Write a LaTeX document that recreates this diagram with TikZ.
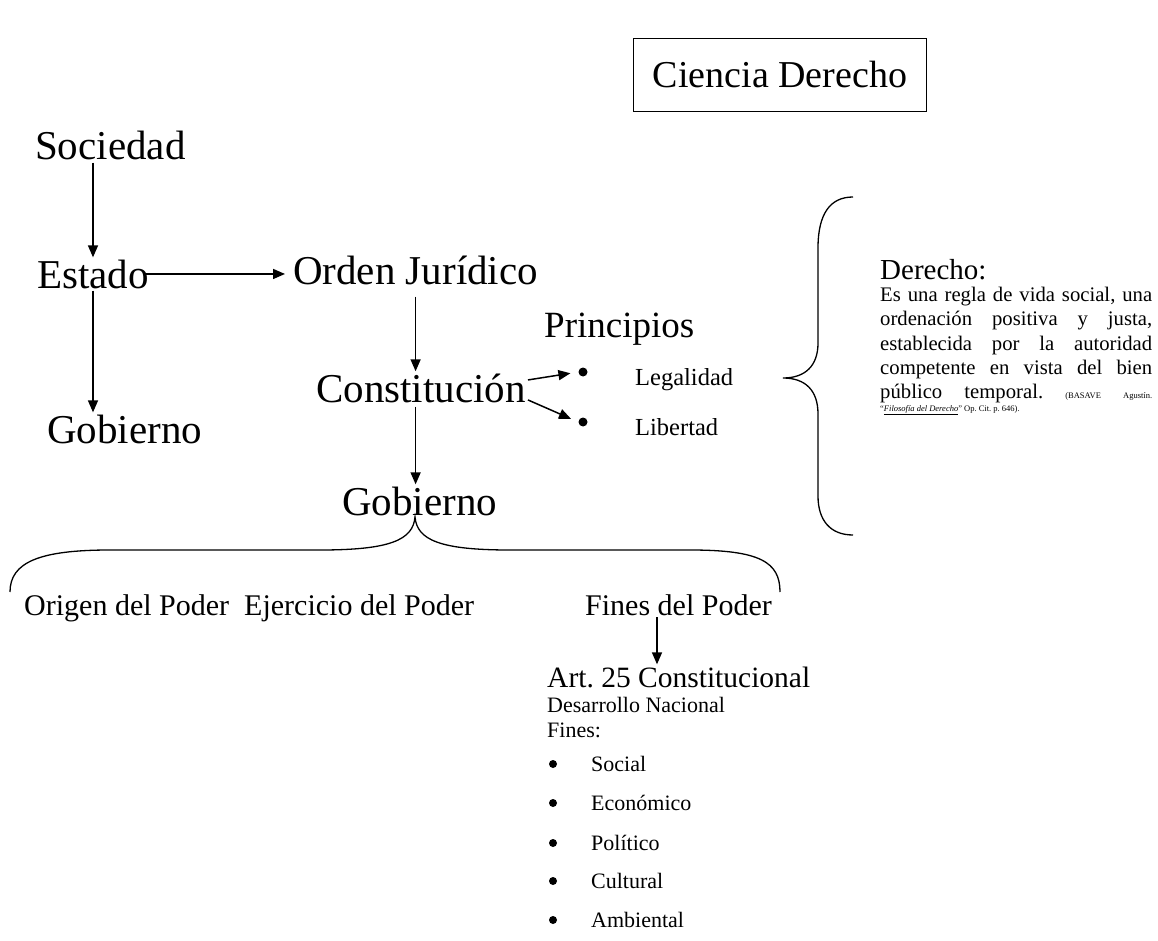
\documentclass[tikz,border=0pt]{standalone}
\usepackage{fontspec}
\setmainfont{Liberation Serif}
\usetikzlibrary{arrows.meta}
\frenchspacing

\begin{document}
\begin{tikzpicture}[x=1pt,y=-1pt,
  flecha/.style={line width=1.5pt,-{Triangle[length=12pt,width=10pt]}},
  llave/.style={line width=1.3pt},
  txt/.style={inner sep=2pt,anchor=base west},
  grande/.style={txt,font=\fontsize{41}{48}\selectfont},
  medio/.style={txt,font=\fontsize{30}{35}\selectfont},
  chico/.style={txt,font=\fontsize{22}{26}\selectfont},
  punto/.style={circle,fill=black,inner sep=0pt,minimum size=9pt}]

\useasboundingbox (0,0) rectangle (1158,941);

% title box
\node[draw,line width=1.2pt,inner xsep=19pt,minimum height=73pt,
  font=\fontsize{38}{44}\selectfont] (titulo) at (780,75) {Ciencia Derecho};

% left column
\node[grande] (soc) at (33,160) {Sociedad};
\node[grande] (est) at (35,288) {Estado};
\node[grande] (gobizq) at (45,443) {Gobierno};
\node[grande] (orden) at (291,284) {Orden Jurídico};
\node[grande] (const) at (314,402) {Constitución};
\node[grande] (gob) at (340,515) {Gobierno};

\draw[flecha] (soc.south -| est.south) -- (est.north);
\draw[flecha] (est.south) -- (est.south |- gobizq.north);
\draw[flecha] ([xshift=-6pt]est.east) -- ([xshift=-6pt]orden.west |- est.east);
\draw[flecha] ([yshift=-10pt]orden.south) -- (orden.south |- const.north);
\draw[flecha] ([yshift=-2pt]orden.south |- const.south) -- (orden.south |- gob.north);

% principles
\node[txt,font=\fontsize{37}{43}\selectfont] (princ) at (542,337) {Principios};
\node[punto] (p1) at (583,372) {};
\node[punto] (p2) at (583,422) {};
\node[txt,font=\fontsize{24.5}{29}\selectfont] (legal) at (633,385) {Legalidad};
\node[txt,font=\fontsize{24.5}{29}\selectfont] (libert) at (633,435) {Libertad};
\draw[flecha,shorten >=8pt] ([yshift=8pt]const.east) -- (p1.west);
\draw[flecha,shorten >=8pt] ([yshift=-12pt]const.east) -- (p2.west);

% right brace and definition
\draw[llave] (853,197) .. controls (830,197) and (818,214) .. (818,248) -- (818,343)
  .. controls (818,366) and (805,378) .. (783,378)
  .. controls (805,378) and (818,390) .. (818,414) -- (818,496)
  .. controls (818,520) and (830,535) .. (853,535);
\node[txt,font=\fontsize{29}{34}\selectfont] (der) at (878,279) {Derecho:};
\node[anchor=north west,inner sep=0pt,text width=272pt,align=left,
  font=\fontsize{20.7}{24.3}\selectfont] (defi) at (880,287) {%
  \makebox[272pt][l]{Es\hfill una\hfill regla\hfill de\hfill vida\hfill social,\hfill una}\\
  \makebox[272pt][l]{ordenación\hfill positiva\hfill y\hfill justa,}\\
  \makebox[272pt][l]{establecida\hfill por\hfill la\hfill autoridad}\\
  \makebox[272pt][l]{competente\hfill en\hfill vista\hfill del\hfill bien}\\
  \makebox[272pt][l]{público\hfill temporal.\hfill{\fontsize{8.5}{10}\selectfont(BASAVE\hfill Agustín.}}\\[-12pt]
  \makebox[272pt][l]{\spaceskip=0pt\xspaceskip=0pt\fontsize{8.5}{10}\selectfont
    “\underline{\textit{Filosofía del Derecho}}” Op. Cit. p. 646).}};

% lower brace
\draw[llave] (10,592) .. controls (10,562) and (40,550) .. (110,550) -- (320,550)
  .. controls (390,550) and (413,540) .. (415,517)
  .. controls (417,540) and (440,550) .. (510,550) -- (690,550)
  .. controls (760,550) and (780,562) .. (780,592);

\node[medio] (origen) at (22,615) {Origen del Poder};
\node[medio] (ejer) at (242,615) {Ejercicio del Poder};
\node[medio] (fines) at (583,615) {Fines del Poder};

% article 25
\node[txt,font=\fontsize{29.5}{34}\selectfont] (art) at (545,687) {Art. 25 Constitucional};
\node[chico] (desa) at (545,712) {Desarrollo Nacional};
\node[chico] (finl) at (545,737) {Fines:};
\draw[flecha] ([xshift=112pt]art.north west |- fines.south) -- ([xshift=112pt]art.north west);

\node[punto,minimum size=8pt] (b1) at (553,764) {};
\node[punto,minimum size=8pt] (b2) at (553,803) {};
\node[punto,minimum size=8pt] (b3) at (553,843) {};
\node[punto,minimum size=8pt] (b4) at (553,881) {};
\node[punto,minimum size=8pt] (b5) at (553,920) {};
\node[chico] (soc2) at (589,771) {Social};
\node[chico] (eco) at (589,810) {Económico};
\node[chico] (pol) at (589,850) {Político};
\node[chico] (cul) at (589,888) {Cultural};
\node[chico] (amb) at (589,927) {Ambiental};
\end{tikzpicture}
\end{document}
